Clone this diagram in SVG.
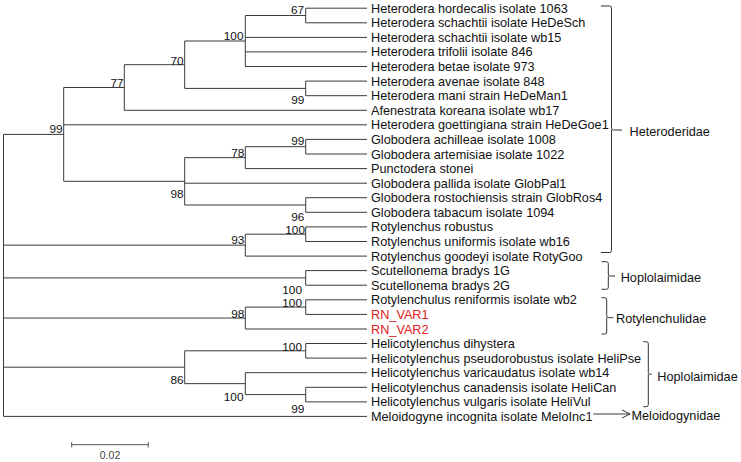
<svg xmlns="http://www.w3.org/2000/svg" width="741" height="462" viewBox="0 0 741 462">
<style>
text{font-family:"Liberation Sans",Arial,sans-serif;fill:#111}
.leaf{font-size:12.7px}
.bs{font-size:11.8px;text-anchor:end}
.fam{font-size:12.7px}
.red{fill:#e02020}
.br{fill:none;stroke:#333;stroke-width:1}
#edges path{fill:none;stroke:#3a3a3a;stroke-width:1}
</style>
<defs>
<marker id="arr" markerWidth="10" markerHeight="10" refX="9" refY="5" orient="auto" markerUnits="userSpaceOnUse">
<path d="M1,1 L9,5 L1,9" fill="none" stroke="#333" stroke-width="1"/>
</marker>
</defs>
<rect width="741" height="462" fill="#fff"/>
<g id="edges">
<path d="M3.5,134.4 V416.4 M3.5,134.4 H63.7 M3.5,245.15 H245.3 M3.5,277.9 H305.7 M3.5,318.05 H245.3 M3.5,367.2 H184.7 M3.5,416.4 H367"/>
<path d="M63.7,87.5 V181.3 M63.7,87.5 H124.3 M63.7,124.8 H367 M63.7,181.3 H184.7"/>
<path d="M124.3,64.7 V110.3 M124.3,64.7 H184.7 M124.3,110.3 H367"/>
<path d="M184.7,41 V88.4 M184.7,41 H245.3 M184.7,88.4 H305.7"/>
<path d="M245.3,15.5 V66.5 M245.3,15.5 H305.7 M245.3,37.4 H367 M245.3,51.9 H367 M245.3,66.5 H367"/>
<path d="M305.7,8.2 V22.8 M305.7,8.2 H367 M305.7,22.8 H367"/>
<path d="M305.7,81.1 V95.7 M305.7,81.1 H367 M305.7,95.7 H367"/>
<path d="M184.7,157.65 V205 M184.7,157.65 H245.3 M184.7,183.2 H367 M184.7,205 H305.7"/>
<path d="M245.3,146.7 V168.6 M245.3,146.7 H305.7 M245.3,168.6 H367"/>
<path d="M305.7,139.4 V154 M305.7,139.4 H367 M305.7,154 H367"/>
<path d="M305.7,197.7 V212.3 M305.7,197.7 H367 M305.7,212.3 H367"/>
<path d="M245.3,234.2 V256.1 M245.3,234.2 H305.7 M245.3,256.1 H367"/>
<path d="M305.7,226.9 V241.5 M305.7,226.9 H367 M305.7,241.5 H367"/>
<path d="M305.7,270.6 V285.2 M305.7,270.6 H367 M305.7,285.2 H367"/>
<path d="M245.3,307.1 V329 M245.3,307.1 H305.7 M245.3,329 H367"/>
<path d="M305.7,299.8 V314.4 M305.7,299.8 H367 M305.7,314.4 H367"/>
<path d="M184.7,350.8 V383.65 M184.7,350.8 H305.7 M184.7,383.65 H245.3"/>
<path d="M305.7,343.5 V358.1 M305.7,343.5 H367 M305.7,358.1 H367"/>
<path d="M245.3,372.7 V394.6 M245.3,372.7 H367 M245.3,394.6 H305.7"/>
<path d="M305.7,387.3 V401.9 M305.7,387.3 H367 M305.7,401.9 H367"/>
<path d="M593.3,414 H630" marker-end="url(#arr)"/>
</g>
<g id="bootstrap">
<text class="bs" x="304" y="14">67</text>
<text class="bs" x="243.5" y="40">100</text>
<text class="bs" x="183.5" y="64.5">70</text>
<text class="bs" x="123.5" y="87">77</text>
<text class="bs" x="304.3" y="104">99</text>
<text class="bs" x="62.7" y="133">99</text>
<text class="bs" x="304.3" y="145">99</text>
<text class="bs" x="244.3" y="157">78</text>
<text class="bs" x="183.5" y="198">98</text>
<text class="bs" x="304.3" y="221">96</text>
<text class="bs" x="305" y="233.5">100</text>
<text class="bs" x="244.3" y="244">93</text>
<text class="bs" x="302" y="293.7">100</text>
<text class="bs" x="302" y="306.5">100</text>
<text class="bs" x="244.3" y="318">98</text>
<text class="bs" x="302" y="350.5">100</text>
<text class="bs" x="183.5" y="384">86</text>
<text class="bs" x="243.5" y="400.5">100</text>
<text class="bs" x="304.3" y="412.5">99</text>
</g>
<g id="leaves">
<text class="leaf" x="371" y="12.7">Heterodera hordecalis isolate 1063</text>
<text class="leaf" x="371" y="27.3">Heterodera schachtii isolate HeDeSch</text>
<text class="leaf" x="371" y="41.9">Heterodera schachtii isolate wb15</text>
<text class="leaf" x="371" y="56.4">Heterodera trifolii isolate 846</text>
<text class="leaf" x="371" y="71">Heterodera betae isolate 973</text>
<text class="leaf" x="371" y="85.6">Heterodera avenae isolate 848</text>
<text class="leaf" x="371" y="100.2">Heterodera mani strain HeDeMan1</text>
<text class="leaf" x="371" y="114.8">Afenestrata koreana isolate wb17</text>
<text class="leaf" x="371" y="129.3">Heterodera goettingiana strain HeDeGoe1</text>
<text class="leaf" x="371" y="143.9">Globodera achilleae isolate 1008</text>
<text class="leaf" x="371" y="158.5">Globodera artemisiae isolate 1022</text>
<text class="leaf" x="371" y="173.1">Punctodera stonei</text>
<text class="leaf" x="371" y="187.7">Globodera pallida isolate GlobPal1</text>
<text class="leaf" x="371" y="202.2">Globodera rostochiensis strain GlobRos4</text>
<text class="leaf" x="371" y="216.8">Globodera tabacum isolate 1094</text>
<text class="leaf" x="371" y="231.4">Rotylenchus robustus</text>
<text class="leaf" x="371" y="246">Rotylenchus uniformis isolate wb16</text>
<text class="leaf" x="371" y="260.6">Rotylenchus goodeyi isolate RotyGoo</text>
<text class="leaf" x="371" y="275.1">Scutellonema bradys 1G</text>
<text class="leaf" x="371" y="289.7">Scutellonema bradys 2G</text>
<text class="leaf" x="371" y="304.3">Rotylenchulus reniformis isolate wb2</text>
<text class="leaf red" x="371" y="318.9">RN_VAR1</text>
<text class="leaf red" x="371" y="333.5">RN_VAR2</text>
<text class="leaf" x="371" y="348">Helicotylenchus dihystera</text>
<text class="leaf" x="371" y="362.6">Helicotylenchus pseudorobustus isolate HeliPse</text>
<text class="leaf" x="371" y="377.2">Helicotylenchus varicaudatus isolate wb14</text>
<text class="leaf" x="371" y="391.8">Helicotylenchus canadensis isolate HeliCan</text>
<text class="leaf" x="371" y="406.4">Helicotylenchus vulgaris isolate HeliVul</text>
<text class="leaf" x="371" y="420.9">Meloidogyne incognita isolate MeloInc1</text>
</g>
<g id="heteroderidae">
<path class="br" d="M601,6 H609.5 Q611.5,6 611.5,8 V128 Q611.5,130 613.5,130 H622 M611.5,130 V250.5 Q611.5,252.5 609.5,252.5 H601"/>
<text class="fam" x="629.5" y="135.5">Heteroderidae</text>
</g>
<g id="hoplolaimidae1">
<path class="br" d="M601.5,261.7 H606.3 Q608.3,261.7 608.3,263.7 V274 Q608.3,276 610.3,276 H615 M608.3,276 V287.3 Q608.3,289.3 606.3,289.3 H601.5"/>
<text class="fam" x="620.7" y="282">Hoplolaimidae</text>
</g>
<g id="rotylenchulidae">
<path class="br" d="M601.5,297.7 H604.7 Q606.7,297.7 606.7,299.7 V315.7 Q606.7,317.7 608.7,317.7 H613.3 M606.7,317.7 V332 Q606.7,334 604.7,334 H601.5"/>
<text class="fam" x="616" y="322.8">Rotylenchulidae</text>
</g>
<g id="hoplolaimidae2">
<path class="br" d="M643.3,341.7 H646.3 Q648.3,341.7 648.3,343.7 V372.3 Q648.3,374.3 650.3,374.3 H651.7 M648.3,374.3 V404.7 Q648.3,406.7 646.3,406.7 H643.3"/>
<text class="fam" x="657.3" y="381">Hoplolaimidae</text>
</g>
<g id="meloidogynidae">
<text class="fam" x="631.5" y="419.5">Meloidogynidae</text>
</g>
<g id="scalebar">
<path d="M71.7,444.7 H148.3 M71.7,442 V447.5 M148.3,442 V447.5" fill="none" stroke="#555" stroke-width="1"/>
<text x="110" y="459" font-size="10.5" text-anchor="middle" style="fill:#444">0.02</text>
</g>
</svg>
